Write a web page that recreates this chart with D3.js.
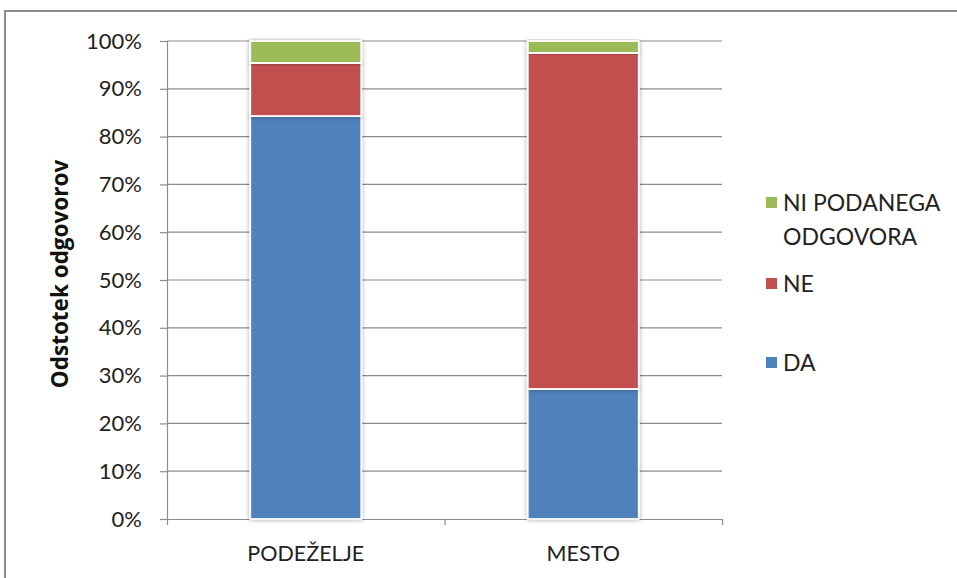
<!DOCTYPE html>
<html><head><meta charset="utf-8">
<script src="https://cdn.jsdelivr.net/npm/d3@7"></script>
<style>body{margin:0;background:#fff}svg{display:block}</style>
</head><body>
<svg id="c" width="957" height="578"></svg>
<script>
const categories = ["PODEŽELJE", "MESTO"];
const seriesNames = ["DA", "NE", "NI PODANEGA ODGOVORA"];
const valuesDA = [84.3, 27.2];
const valuesNE = [11.1, 70.3];
const valuesNI = [4.6, 2.5];
const yTicks = [0,10,20,30,40,50,60,70,80,90,100];
const colors = ["#4F81BD", "#C0504D", "#9BBB59"];

const svg = d3.select("#c");
const font = "Lato, 'Open Sans', sans-serif";
// outer frame
svg.append("rect").attr("x",5).attr("y",11).attr("width",960).attr("height",580)
  .attr("fill","none").attr("stroke","#8c8c8c").attr("stroke-width",2);

const L=167, R=722, T=41, B=519;
const x = d3.scaleBand().domain(categories).range([L,R]).paddingInner(0.6).paddingOuter(0.3);
const y = d3.scaleLinear().domain([0,100]).range([B,T]);

// gridlines
svg.append("g").selectAll("line").data(yTicks.filter(d=>d>0)).join("line")
  .attr("x1",L).attr("x2",R).attr("y1",d=>y(d)).attr("y2",d=>y(d))
  .attr("stroke","#8c8c8c").attr("stroke-width",1.2);

// y axis
const ya = svg.append("g").attr("transform",`translate(${L},0)`)
  .call(d3.axisLeft(y).tickValues(yTicks).tickFormat(d=>d+"%").tickSize(7).tickPadding(18));
ya.select(".domain").attr("stroke","#8c8c8c").attr("stroke-width",1.2);
ya.selectAll(".tick line").attr("stroke","#8c8c8c").attr("stroke-width",1.2);
ya.selectAll("text").attr("font-family",font).attr("font-size",22).attr("fill","#222");

// x axis
const xb = d3.scaleLinear().domain([0,2]).range([L,R]);
const xa = svg.append("g").attr("transform",`translate(0,${B})`)
  .call(d3.axisBottom(xb).tickValues([0,1,2]).tickFormat("").tickSize(6).tickSizeOuter(0));
xa.select(".domain").attr("stroke","#8c8c8c").attr("stroke-width",1.2);
xa.selectAll(".tick line").attr("stroke","#8c8c8c").attr("stroke-width",1.2);
svg.append("g").selectAll("text").data(categories).join("text")
  .attr("x",d=>x(d)+x.bandwidth()/2).attr("y",561).attr("text-anchor","middle")
  .attr("font-family",font).attr("font-size",21.5).attr("fill","#222").text(d=>d);

// stacked bars
const rows = categories.map((c,i)=>({cat:c, DA:valuesDA[i], NE:valuesNE[i], "NI PODANEGA ODGOVORA":valuesNI[i]}));
const stack = d3.stack().keys(seriesNames)(rows);
const defs = svg.append("defs");
const f = defs.append("filter").attr("id","sh").attr("x","-10%").attr("y","-10%").attr("width","120%").attr("height","120%");
f.append("feGaussianBlur").attr("in","SourceAlpha").attr("stdDeviation",2.5).attr("result","b");
f.append("feComponentTransfer").append("feFuncA").attr("type","linear").attr("slope",0.35);
const m = f.append("feMerge"); m.append("feMergeNode"); m.append("feMergeNode").attr("in","SourceGraphic");

stack.forEach((s,si)=>{
  svg.append("g").selectAll("rect").data(s).join("rect")
    .attr("x",d=>x(d.data.cat)).attr("width",x.bandwidth())
    .attr("y",d=>y(d[1])).attr("height",d=>y(d[0])-y(d[1]))
    .attr("fill",colors[si]).attr("stroke","#fff").attr("stroke-width",1.8)
    .attr("filter","url(#sh)");
});

// y title
svg.append("text").attr("transform","translate(68,274) rotate(-90)").attr("text-anchor","middle")
  .attr("font-family","'Open Sans', sans-serif").attr("font-weight","bold").attr("font-size",22.5).attr("fill","#111")
  .text("Odstotek odgovorov");

// legend
const leg = [
  {lines:["NI PODANEGA","ODGOVORA"], c:colors[2], y:202},
  {lines:["NE"], c:colors[1], y:283},
  {lines:["DA"], c:colors[0], y:362}
];
const lg = svg.append("g").selectAll("g").data(leg).join("g");
lg.append("rect").attr("x",766).attr("y",d=>d.y-5).attr("width",11).attr("height",11).attr("fill",d=>d.c);
lg.append("text").attr("font-family",font).attr("font-size",23).attr("fill","#222")
  .each(function(d){
    d3.select(this).selectAll("tspan").data(d.lines).join("tspan")
      .attr("x",783).attr("y",(t,i)=>d.y+9+i*34).text(t=>t);
  });
</script>
</body></html>
